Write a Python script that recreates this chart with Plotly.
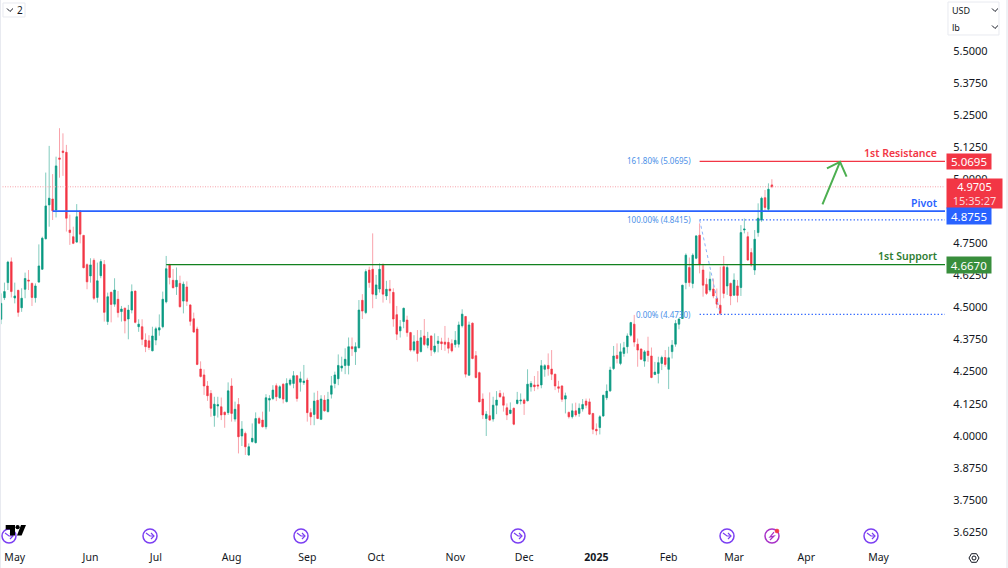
import plotly.graph_objects as go

# daily candles (session index = list position)
opens = [4.454,4.538,4.597,4.678,4.537,4.567,4.499,4.571,4.607,4.594,4.538,4.599,4.649,4.768,4.900,4.923,4.880,5.083,5.110,5.105,
    4.802,4.776,4.755,4.876,4.781,4.667,4.623,4.684,4.539,4.624,4.668,4.445,4.559,4.513,4.532,4.484,4.497,4.455,4.490,4.564,
    4.425,4.425,4.373,4.370,4.331,4.373,4.412,4.425,4.522,4.668,4.606,4.581,4.594,4.525,4.580,4.510,4.456,4.416,4.260,4.237,
    4.194,4.165,4.079,4.116,4.113,4.092,4.090,4.194,4.065,4.122,3.999,4.009,3.925,3.977,3.973,4.067,4.061,4.035,4.139,4.145,
    4.195,4.148,4.201,4.133,4.201,4.204,4.234,4.209,4.207,4.217,4.090,4.083,4.138,4.064,4.139,4.094,4.162,4.204,4.222,4.264,
    4.274,4.274,4.347,4.327,4.343,4.528,4.480,4.646,4.649,4.549,4.572,4.665,4.545,4.572,4.559,4.472,4.409,4.445,4.451,4.402,
    4.334,4.369,4.328,4.389,4.353,4.389,4.328,4.360,4.366,4.365,4.364,4.359,4.356,4.357,4.429,4.465,4.236,4.439,4.312,4.246,
    4.143,4.067,4.078,4.065,4.119,4.165,4.152,4.109,4.087,4.107,4.126,4.136,4.139,4.136,4.191,4.198,4.198,4.198,4.259,4.274,
    4.260,4.240,4.191,4.194,4.143,4.091,4.074,4.097,4.087,4.104,4.135,4.132,4.087,4.025,4.032,4.077,4.148,4.175,4.262,4.313,
    4.282,4.321,4.347,4.392,4.435,4.357,4.338,4.291,4.330,4.311,4.239,4.243,4.282,4.305,4.259,4.328,4.357,4.435,4.457,4.597,
    4.656,4.594,4.692,4.782,4.646,4.590,4.568,4.572,4.536,4.509,4.659,4.584,4.594,4.548,4.584,4.578,4.802,4.776,4.714,4.646,
    4.792,4.841,4.928,4.883,4.978]
highs = [4.555,4.597,4.682,4.695,4.597,4.568,4.575,4.636,4.646,4.597,4.594,4.746,4.776,5.026,5.130,5.020,5.088,5.199,5.179,5.134,
    4.862,4.815,4.903,4.880,4.783,4.672,4.692,4.692,4.675,4.688,4.685,4.558,4.562,4.614,4.564,4.506,4.500,4.510,4.590,4.564,
    4.454,4.454,4.399,4.392,4.425,4.425,4.473,4.562,4.701,4.669,4.650,4.656,4.624,4.601,4.602,4.511,4.480,4.425,4.290,4.259,
    4.213,4.178,4.152,4.152,4.149,4.093,4.208,4.224,4.133,4.147,4.057,4.016,3.970,4.048,4.091,4.074,4.094,4.162,4.158,4.197,
    4.204,4.197,4.204,4.224,4.224,4.252,4.237,4.250,4.276,4.226,4.107,4.168,4.175,4.158,4.158,4.171,4.233,4.250,4.317,4.308,
    4.341,4.383,4.383,4.364,4.529,4.552,4.649,4.659,4.789,4.627,4.672,4.672,4.604,4.607,4.575,4.506,4.451,4.499,4.468,4.405,
    4.392,4.412,4.412,4.455,4.405,4.390,4.399,4.389,4.382,4.428,4.382,4.376,4.408,4.445,4.493,4.467,4.445,4.441,4.330,4.250,
    4.165,4.096,4.169,4.152,4.174,4.178,4.168,4.126,4.130,4.110,4.171,4.165,4.145,4.259,4.213,4.233,4.252,4.295,4.279,4.321,
    4.334,4.240,4.214,4.197,4.168,4.094,4.126,4.129,4.126,4.143,4.145,4.145,4.087,4.048,4.080,4.158,4.200,4.269,4.350,4.360,
    4.360,4.366,4.399,4.444,4.471,4.379,4.340,4.334,4.386,4.344,4.288,4.308,4.312,4.334,4.347,4.373,4.451,4.457,4.587,4.711,
    4.695,4.711,4.782,4.828,4.665,4.614,4.640,4.613,4.574,4.659,4.701,4.665,4.597,4.633,4.607,4.821,4.847,4.795,4.731,4.802,
    4.906,4.932,4.958,4.984,5.000]
lows = [4.435,4.529,4.568,4.539,4.516,4.464,4.483,4.536,4.568,4.506,4.519,4.597,4.649,4.766,4.815,4.841,4.851,5.006,5.013,4.796,
    4.744,4.747,4.753,4.750,4.653,4.571,4.597,4.529,4.519,4.614,4.445,4.432,4.442,4.503,4.461,4.445,4.399,4.376,4.477,4.438,
    4.405,4.353,4.326,4.334,4.330,4.353,4.390,4.419,4.516,4.590,4.575,4.549,4.500,4.477,4.506,4.429,4.403,4.275,4.227,4.159,
    4.136,4.074,4.035,4.071,4.061,4.031,4.081,4.055,4.055,3.931,3.960,3.925,3.921,3.973,3.970,4.045,4.032,4.025,4.094,4.139,
    4.135,4.145,4.126,4.130,4.194,4.185,4.133,4.172,4.198,4.055,4.041,4.041,4.065,4.061,4.094,4.091,4.145,4.185,4.197,4.250,
    4.240,4.239,4.311,4.276,4.341,4.455,4.474,4.577,4.497,4.533,4.558,4.519,4.529,4.516,4.425,4.373,4.383,4.419,4.386,4.328,
    4.328,4.289,4.325,4.350,4.341,4.311,4.321,4.325,4.334,4.331,4.321,4.325,4.344,4.344,4.422,4.227,4.234,4.298,4.223,4.132,
    4.065,3.999,4.058,4.055,4.084,4.149,4.094,4.061,4.084,4.041,4.122,4.122,4.081,4.135,4.172,4.174,4.181,4.185,4.230,4.234,
    4.217,4.178,4.168,4.132,4.087,4.067,4.067,4.074,4.074,4.094,4.107,4.081,4.006,4.002,4.005,4.074,4.139,4.171,4.256,4.282,
    4.275,4.308,4.321,4.386,4.347,4.269,4.295,4.269,4.288,4.224,4.236,4.204,4.256,4.269,4.182,4.301,4.347,4.415,4.457,4.571,
    4.581,4.575,4.688,4.633,4.542,4.549,4.561,4.536,4.497,4.470,4.536,4.549,4.509,4.545,4.520,4.545,4.789,4.682,4.659,4.627,
    4.776,4.834,4.874,4.877,4.965]
closes = [4.516,4.562,4.677,4.562,4.545,4.481,4.536,4.613,4.603,4.539,4.584,4.662,4.770,4.896,4.926,4.877,5.052,5.078,5.104,4.848,
    4.792,4.750,4.854,4.786,4.655,4.600,4.666,4.536,4.604,4.679,4.481,4.542,4.512,4.568,4.480,4.494,4.448,4.490,4.562,4.442,
    4.435,4.376,4.347,4.344,4.389,4.417,4.421,4.532,4.651,4.617,4.577,4.606,4.503,4.591,4.524,4.446,4.404,4.278,4.231,4.194,
    4.156,4.107,4.123,4.121,4.081,4.082,4.175,4.087,4.103,3.996,4.026,3.957,3.957,3.990,4.067,4.049,4.035,4.148,4.145,4.178,
    4.152,4.191,4.143,4.204,4.217,4.234,4.145,4.222,4.213,4.090,4.074,4.135,4.067,4.143,4.097,4.141,4.195,4.237,4.274,4.272,
    4.298,4.347,4.339,4.347,4.490,4.486,4.640,4.597,4.552,4.588,4.649,4.552,4.571,4.565,4.455,4.396,4.425,4.497,4.402,4.334,
    4.366,4.321,4.382,4.356,4.379,4.334,4.350,4.369,4.359,4.357,4.341,4.331,4.372,4.432,4.474,4.240,4.432,4.301,4.227,4.132,
    4.081,4.084,4.061,4.119,4.139,4.152,4.119,4.081,4.100,4.045,4.139,4.139,4.126,4.201,4.204,4.191,4.194,4.273,4.273,4.261,
    4.240,4.194,4.185,4.142,4.156,4.074,4.097,4.081,4.107,4.122,4.119,4.084,4.025,4.019,4.074,4.158,4.174,4.256,4.311,4.301,
    4.327,4.343,4.389,4.441,4.365,4.334,4.298,4.327,4.313,4.227,4.248,4.285,4.305,4.278,4.304,4.353,4.438,4.455,4.587,4.704,
    4.597,4.704,4.779,4.669,4.587,4.555,4.610,4.545,4.513,4.477,4.555,4.656,4.545,4.607,4.547,4.792,4.806,4.685,4.666,4.766,
    4.848,4.926,4.890,4.961,4.971]

price_ticks = [5.5, 5.375, 5.25, 5.125, 5.0, 4.875, 4.75, 4.625, 4.5, 4.375, 4.25, 4.125, 4.0, 3.875, 3.75, 3.625]
month_ticks = [4, 26, 45, 67, 89, 109, 132, 152, 173, 194, 213, 234, 255]
month_labels = ["May", "Jun", "Jul", "Aug", "Sep", "Oct", "Nov", "Dec", "<b>2025</b>", "Feb", "Mar", "Apr", "May"]

pivot, resistance, support, last_price = 4.8755, 5.0695, 4.6670, 4.9705
fib_100, fib_0 = 4.8415, 4.4730
pivot_start, support_start, fib_start, fib_low_session = 15, 48, 203, 209

GREEN, RED = "#089981", "#F23645"
BLUE, SUP = "#2962FF", "#12811F"
FONT = "Noto Sans"
W, H = 1008, 568
PANE_W, PANE_H = 945, 545
X_END = 274.3

sessions = list(range(len(opens)))
body_hi = [max(o, c) for o, c in zip(opens, closes)]
body_lo = [min(o, c) for o, c in zip(opens, closes)]


def px(x):
    return x / PANE_W


def py(y):
    return 1 - y / PANE_H


def pane_path(points, close=False):
    d = "M " + " L ".join(f"{px(x):.5f},{py(y):.5f}" for x, y in points)
    return d + (" Z" if close else "")


fig = go.Figure()
# wicks first in a lighter tone, solid bodies on top
fig.add_trace(go.Candlestick(
    x=sessions, open=opens, high=highs, low=lows, close=closes, whiskerwidth=0,
    increasing=dict(line=dict(color="#82CBBE", width=1), fillcolor="rgba(0,0,0,0)"),
    decreasing=dict(line=dict(color="#F9A3AB", width=1), fillcolor="rgba(0,0,0,0)"),
    showlegend=False, hoverinfo="skip",
))
fig.add_trace(go.Candlestick(
    x=sessions, open=opens, high=body_hi, low=body_lo, close=closes, whiskerwidth=0,
    increasing=dict(line=dict(color=GREEN, width=0.5), fillcolor=GREEN),
    decreasing=dict(line=dict(color=RED, width=0.5), fillcolor=RED),
    showlegend=False,
))

shapes = []


def level(start, price, color, width, dash="solid"):
    shapes.append(dict(type="line", xref="x", yref="y", x0=start, x1=X_END, y0=price, y1=price,
                       line=dict(color=color, width=width, dash=dash)))


def pane_line(points, color, width=1.5, fill=None, close=False):
    shapes.append(dict(type="path", xref="paper", yref="paper", path=pane_path(points, close),
                       line=dict(color=color, width=width), fillcolor=fill))


def ring(cx, cy, r, color, width=1.5, fill=None):
    shapes.append(dict(type="circle", xref="paper", yref="paper", x0=px(cx - r), x1=px(cx + r),
                       y0=py(cy + r), y1=py(cy - r), line=dict(color=color, width=width), fillcolor=fill))


def chevron(cx, cy, color="#131722"):
    pane_line([(cx - 3, cy - 1.5), (cx, cy + 1.5), (cx + 3, cy - 1.5)], color, 1)


level(-0.29, last_price, "#F7A1A9", 1, "1px,1.5px")
level(pivot_start, pivot, BLUE, 1.6)
level(support_start, support, SUP, 1.4)
level(fib_start, resistance, "#F23645", 1.4)
level(fib_start, fib_100, "#2962FF", 1.3, "1.3px,2.2px")
level(fib_start, fib_0, "#2962FF", 1.3, "1.3px,2.2px")
shapes.append(dict(type="line", xref="x", yref="y", x0=fib_start, x1=fib_low_session, y0=fib_100, y1=fib_0,
                   line=dict(color="#8DB4F8", width=1, dash="dot")))
# up arrow towards the resistance
shapes.append(dict(type="path", xref="x", yref="y",
                   path="M 238.7,4.902 L 243.8,5.068 M 240,5.042 L 243.8,5.068 L 245.7,5.010",
                   line=dict(color="#4CAF50", width=2)))

# frame and header boxes
pane_line([(0.5, 0), (0.5, H)], "#E8EAF0", 1)
pane_line([(1007, 0), (1007, H)], "#E0E3EB", 1)
pane_line([(3, 3), (25, 3), (25, 17), (3, 17)], "#E8EAF0", 1, close=True)
chevron(10, 10)
pane_line([(948, 2), (999, 2), (999, 35), (948, 35)], "#E8EAF0", 1, close=True)
chevron(995, 10)
chevron(995, 27)

# event markers along the bottom of the pane
for cx in [9, 150, 301, 518, 727, 871]:
    ring(cx, 536, 7, "#7B3FF2")
    pane_line([(cx - 4, 533), (cx, 536), (cx + 4, 536)], "#7B3FF2", 1.2)
    pane_line([(cx + 1, 533), (cx + 4, 536), (cx + 1, 539)], "#7B3FF2", 1.2)
ring(772, 536, 7, "#A832C8")
pane_line([(774, 532), (770, 537), (774, 536), (770, 540)], "#A832C8", 1.2)
ring(777, 531, 2, "#F23645", 0.5, "#F23645")
pane_line([(5.7, 525), (15, 525), (15, 535.6), (10, 535.6), (10, 529.5), (5.7, 529.5)], "#000000", 0, "#000000", True)
ring(17.6, 527.2, 2.1, "#000000", 0, "#000000")
pane_line([(21, 525), (26, 525), (21.6, 535.6), (17, 535.6)], "#000000", 0, "#000000", True)
# settings gear
pane_line([(969, 558), (971.5, 553.7), (976.5, 553.7), (979, 558), (976.5, 562.3), (971.5, 562.3)], "#131722", 1, close=True)
ring(974, 558, 2, "#131722", 1)

annotations = []


def note(x, y, text, color, size=11, anchor="left", weight="normal"):
    annotations.append(dict(xref="paper", yref="paper", x=px(x), y=py(y), text=text, showarrow=False,
                            xanchor=anchor, yanchor="middle", align=anchor,
                            font=dict(family=FONT, size=size, color=color, weight=weight)))


def badge(y0, y1, w, text, color, size=11.5):
    annotations.append(dict(xref="paper", yref="paper", x=px(945.5), y=py((y0 + y1) / 2), text=text, showarrow=False,
                            xanchor="left", yanchor="middle", align="center", width=w, height=y1 - y0,
                            bgcolor=color, borderpad=0, font=dict(family=FONT, size=size, color="#FFFFFF")))


badge(154, 169, 44, "5.0695", "#F23645")
badge(179, 208, 55, "4.9705<br><span style='color:#FBD5D9'>15:35:27</span>", "#F23645", 11)
badge(208, 224, 44, "4.8755", BLUE)
badge(257, 273, 44, "4.6670", "#388E3C")

note(939, 152.5, "1st Resistance", "#F23645", 10.5, "right", 600)
note(939, 202.5, "Pivot", BLUE, 10.5, "right", 600)
note(939, 256, "1st Support", "#2E7D32", 10.5, "right", 600)
note(693, 161, "161.80% (5.0695)", "#4A90E8", 8, "right")
note(693, 219.5, "100.00% (4.8415)", "#4A90E8", 8, "right")
note(693, 314.5, "0.00% (4.4730)", "#4A90E8", 8, "right")
note(950, 10, "USD", "#131722", 9)
note(950, 27, "lb", "#131722", 9)
note(15, 10, "2", "#131722", 10)

fig.update_layout(
    width=W, height=H,
    margin=dict(l=0, r=W - PANE_W, t=0, b=H - PANE_H),
    paper_bgcolor="white", plot_bgcolor="white",
    font=dict(family=FONT, size=11, color="#131722"),
    showlegend=False, shapes=shapes, annotations=annotations, boxgap=0.4,
    xaxis=dict(range=[-0.29, X_END], rangeslider=dict(visible=False), showgrid=False, zeroline=False,
               showline=False, tickmode="array", tickvals=month_ticks, ticktext=month_labels,
               ticks="outside", ticklen=2, tickcolor="rgba(0,0,0,0)", tickangle=0,
               tickfont=dict(family=FONT, size=10.5, color="#131722")),
    yaxis=dict(range=[3.574, 5.6988], side="right", showgrid=False, zeroline=False, showline=False,
               tickmode="array", tickvals=price_ticks, ticktext=[f"{p:.4f}" for p in price_ticks],
               ticks="outside", ticklen=5, tickcolor="rgba(0,0,0,0)",
               tickfont=dict(family=FONT, size=11, color="#131722")),
)

# the page's default body margin would shift the chart by 8px
fig.write_html("out.html", config=dict(displayModeBar=False), post_script="document.body.style.margin='0';")
